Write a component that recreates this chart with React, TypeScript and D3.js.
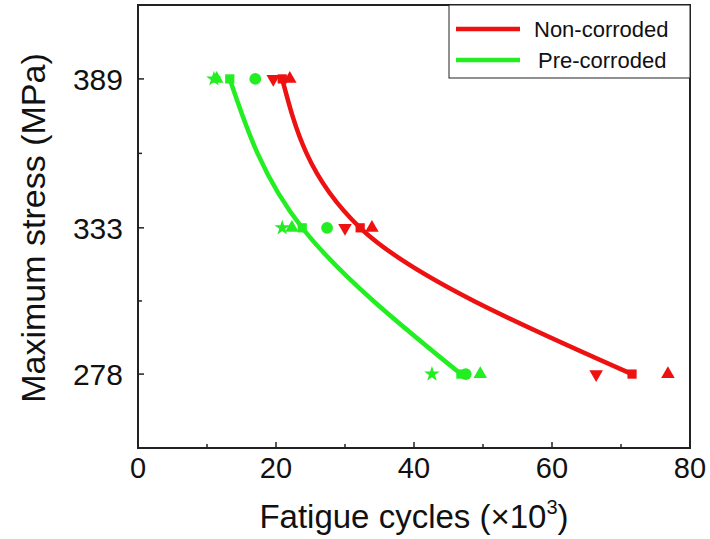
import React, { useEffect, useRef } from "react";
import * as d3 from "d3";

// stress levels (MPa) and fatigue cycles (x10^3)
const stressLevels = [389, 333, 278];
const stressTicks = [278, 333, 389];
const cycleTicks = [0, 20, 40, 60, 80];

const nonDown = [19.6, 30.0, 66.4];
const nonSquare = [20.9, 32.2, 71.6];
const nonUp = [22.0, 33.9, 76.8];

const preStar = [11.0, 20.9, 42.6];
const preUp = [11.4, 22.3, 49.6];
const preSquare = [13.3, 23.8, 46.8];
const preCircle = [17.0, 27.4, 47.5];

const RED = "#ee1111";
const GREEN = "#22ee22";

const W = 710;
const H = 539;

const App = () => {
  const ref = useRef<SVGSVGElement>(null);

  useEffect(() => {
    const svg = d3.select(ref.current);
    svg.selectAll("*").remove();

    const left = 138,
      right = 690,
      top = 5,
      bottom = 448;

    const x = d3.scaleLinear().domain([0, 80]).range([left, right]);
    const y = d3.scaleLinear().domain([250.2, 416.8]).range([bottom, top]);

    const font = "Liberation Sans, Arial, sans-serif";

    // fitted curves through the mean points
    const line = d3
      .line<[number, number]>()
      .x((d) => x(d[0]))
      .y((d) => y(d[1]))
      .curve(d3.curveMonotoneY);

    const curves = [
      { vals: nonSquare, color: RED },
      { vals: preSquare, color: GREEN },
    ];
    curves.forEach((c) => {
      svg
        .append("path")
        .attr("d", line(c.vals.map((v, i) => [v, stressLevels[i]] as [number, number])))
        .attr("fill", "none")
        .attr("stroke", c.color)
        .attr("stroke-width", 4.5)
        .attr("stroke-linecap", "round");
    });

    // scatter markers
    const markers = [
      { vals: preStar, type: d3.symbolStar, size: 75, rot: 0, color: GREEN },
      { vals: preUp, type: d3.symbolTriangle, size: 80, rot: 0, color: GREEN },
      { vals: preSquare, type: d3.symbolSquare, size: 85, rot: 0, color: GREEN },
      { vals: preCircle, type: d3.symbolCircle, size: 110, rot: 0, color: GREEN },
      { vals: nonDown, type: d3.symbolTriangle, size: 80, rot: 180, color: RED },
      { vals: nonSquare, type: d3.symbolSquare, size: 85, rot: 0, color: RED },
      { vals: nonUp, type: d3.symbolTriangle, size: 80, rot: 0, color: RED },
    ];
    markers.forEach((m) => {
      svg
        .append("g")
        .selectAll("path")
        .data(m.vals)
        .enter()
        .append("path")
        .attr("d", d3.symbol().type(m.type).size(m.size)())
        .attr(
          "transform",
          (d, i) => `translate(${x(d)},${y(stressLevels[i])}) rotate(${m.rot})`
        )
        .attr("fill", m.color);
    });

    // frame
    svg
      .append("rect")
      .attr("x", left)
      .attr("y", top)
      .attr("width", right - left)
      .attr("height", bottom - top)
      .attr("fill", "none")
      .attr("stroke", "#222")
      .attr("stroke-width", 2);

    // x ticks (inward)
    const xMinor = d3.range(10, 80, 20);
    svg
      .selectAll(".xt")
      .data(cycleTicks)
      .enter()
      .append("line")
      .attr("x1", (d) => x(d))
      .attr("x2", (d) => x(d))
      .attr("y1", bottom)
      .attr("y2", bottom - 6)
      .attr("stroke", "#222")
      .attr("stroke-width", 1.5);
    svg
      .selectAll(".xm")
      .data(xMinor)
      .enter()
      .append("line")
      .attr("x1", (d) => x(d))
      .attr("x2", (d) => x(d))
      .attr("y1", bottom)
      .attr("y2", bottom - 4)
      .attr("stroke", "#222")
      .attr("stroke-width", 1.5);
    svg
      .selectAll(".xl")
      .data(cycleTicks)
      .enter()
      .append("text")
      .attr("x", (d) => x(d))
      .attr("y", 478)
      .attr("text-anchor", "middle")
      .attr("font-family", font)
      .attr("font-size", 29)
      .attr("fill", "#111")
      .text((d) => d);

    // y ticks (inward)
    const yMinor = d3.range(0, 2).map((i) => (stressTicks[i] + stressTicks[i + 1]) / 2);
    svg
      .selectAll(".yt")
      .data(stressTicks)
      .enter()
      .append("line")
      .attr("x1", left)
      .attr("x2", left + 6)
      .attr("y1", (d) => y(d))
      .attr("y2", (d) => y(d))
      .attr("stroke", "#222")
      .attr("stroke-width", 1.5);
    svg
      .selectAll(".ym")
      .data(yMinor)
      .enter()
      .append("line")
      .attr("x1", left)
      .attr("x2", left + 4)
      .attr("y1", (d) => y(d))
      .attr("y2", (d) => y(d))
      .attr("stroke", "#222")
      .attr("stroke-width", 1.5);
    svg
      .selectAll(".yl")
      .data(stressTicks)
      .enter()
      .append("text")
      .attr("x", 123)
      .attr("y", (d) => y(d))
      .attr("dy", "0.36em")
      .attr("text-anchor", "end")
      .attr("font-family", font)
      .attr("font-size", 30)
      .attr("fill", "#111")
      .text((d) => d);

    // axis titles
    const xt = svg
      .append("text")
      .attr("x", 414)
      .attr("y", 528)
      .attr("text-anchor", "middle")
      .attr("font-family", font)
      .attr("font-size", 33)
      .attr("fill", "#111")
      .text("Fatigue cycles (×10");
    xt.append("tspan").attr("font-size", 20).attr("dy", -14).text("3");
    xt.append("tspan").attr("dy", 14).text(")");

    svg
      .append("text")
      .attr("transform", `translate(45,228) rotate(-90)`)
      .attr("text-anchor", "middle")
      .attr("font-family", font)
      .attr("font-size", 34)
      .attr("fill", "#111")
      .text("Maximum stress (MPa)");

    // legend
    const lg = svg.append("g");
    lg.append("rect")
      .attr("x", 449)
      .attr("y", top)
      .attr("width", right - 449)
      .attr("height", 73)
      .attr("fill", "white")
      .attr("stroke", "#222")
      .attr("stroke-width", 1);
    const items = [
      { label: "Non-corroded", color: RED, tx: 534 },
      { label: "Pre-corroded", color: GREEN, tx: 538 },
    ];
    items.forEach((it, i) => {
      const ly = 29 + i * 31;
      lg.append("line")
        .attr("x1", 456)
        .attr("x2", 520)
        .attr("y1", ly)
        .attr("y2", ly)
        .attr("stroke", it.color)
        .attr("stroke-width", 4.5);
      lg.append("text")
        .attr("x", it.tx)
        .attr("y", ly)
        .attr("dy", "0.36em")
        .attr("font-family", font)
        .attr("font-size", 22)
        .attr("fill", "#111")
        .text(it.label);
    });
  }, []);

  return (
    <svg
      ref={ref}
      width={W}
      height={H}
      style={{ position: "absolute", left: 0, top: 0, background: "white" }}
    ></svg>
  );
};

export default App;
